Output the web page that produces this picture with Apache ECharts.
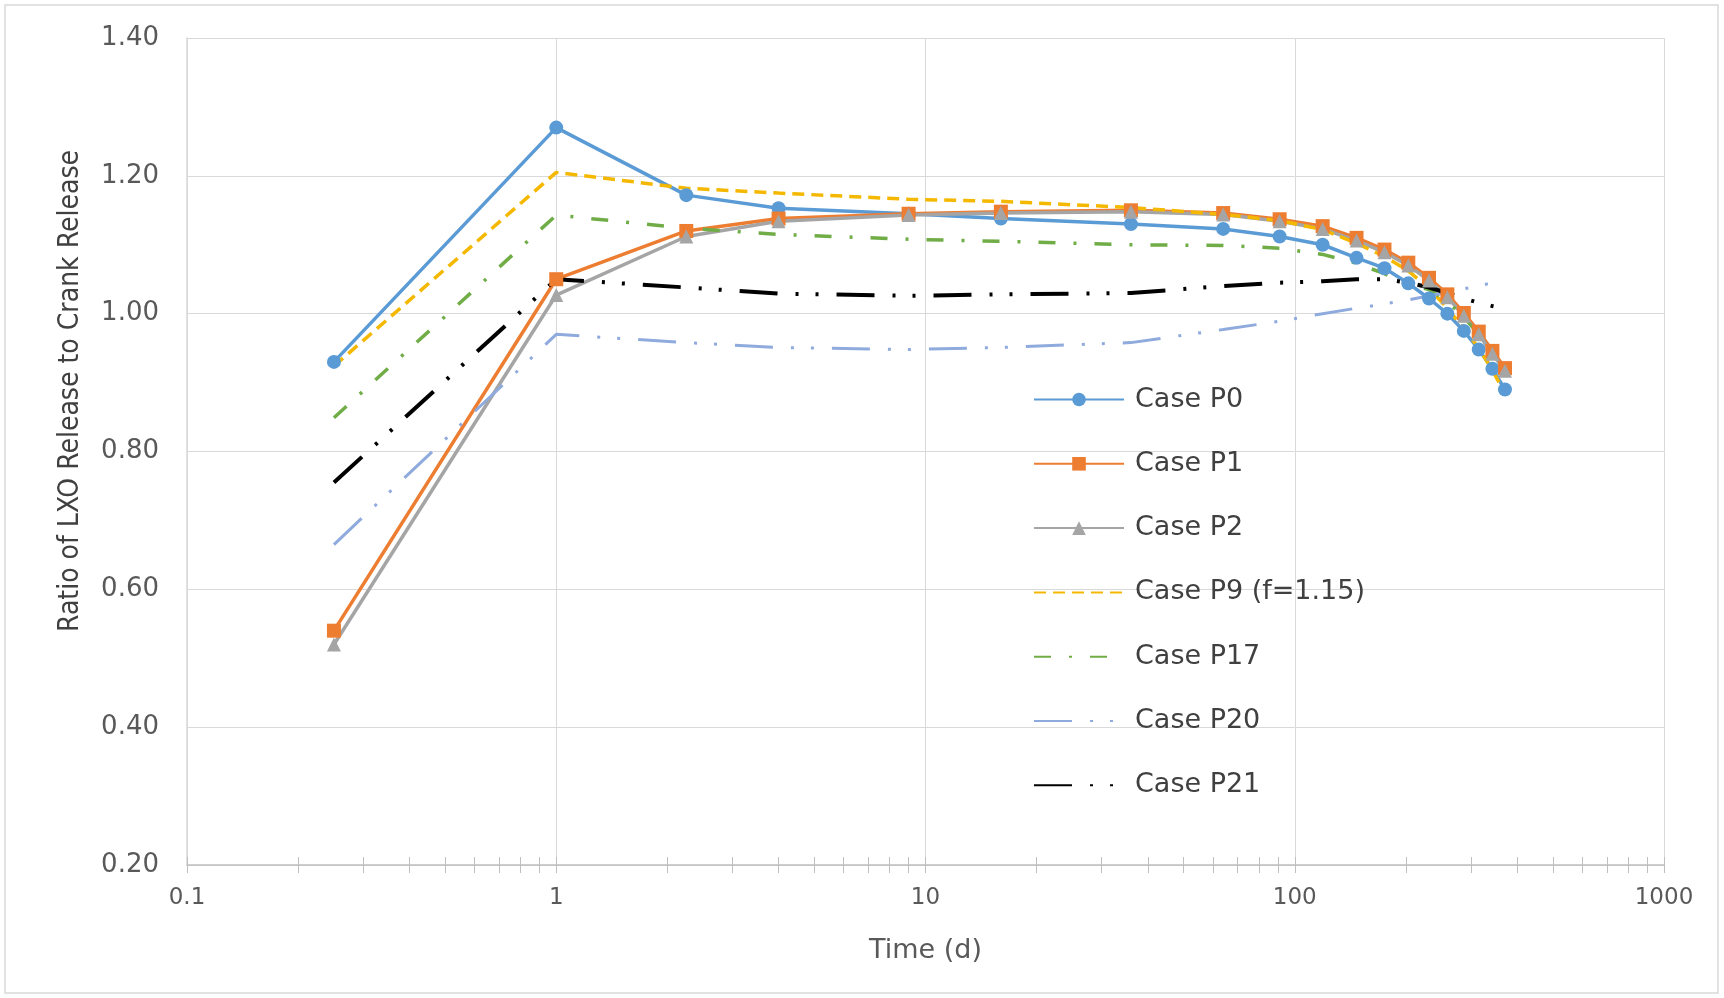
<!DOCTYPE html>
<html>
<head>
<meta charset="utf-8">
<script src="https://cdn.jsdelivr.net/npm/echarts@6/dist/echarts.min.js"></script>
<style>
html,body{margin:0;padding:0;background:#fff;}
#chart{width:1724px;height:998px;}
</style>
</head>
<body>
<div id="chart"></div>
<script>
// ---- data ----
const timeDays = [0.25, 1, 2.25, 4, 9, 16, 36, 64, 91, 119, 147, 175, 203, 231, 259, 287, 315, 343, 371];
const caseP0  = [0.930, 1.270, 1.172, 1.153, 1.145, 1.138, 1.130, 1.123, 1.112, 1.100, 1.081, 1.066, 1.044, 1.022, 1.000, 0.975, 0.948, 0.920, 0.890];
const caseP1  = [0.540, 1.050, 1.120, 1.138, 1.145, 1.148, 1.150, 1.146, 1.137, 1.127, 1.110, 1.093, 1.074, 1.052, 1.028, 1.001, 0.974, 0.946, 0.921];
const caseP2  = [0.520, 1.027, 1.112, 1.134, 1.143, 1.146, 1.148, 1.144, 1.134, 1.123, 1.106, 1.089, 1.070, 1.048, 1.024, 0.997, 0.970, 0.942, 0.917];
const caseP9  = [0.924, 1.205, 1.182, 1.175, 1.166, 1.163, 1.154, 1.144, 1.135, 1.122, 1.102, 1.083, 1.062, 1.037, 1.008, 0.978, 0.950, 0.918, 0.884];
const caseP17 = [0.849, 1.143, 1.124, 1.115, 1.108, 1.105, 1.100, 1.099, 1.095, 1.086, 1.073, 1.058, 1.042, 1.035, 1.018, 0.995, 0.970, 0.943, 0.915];
const caseP20 = [0.665, 0.970, 0.958, 0.951, 0.948, 0.951, 0.958, 0.977, 0.989, 1.000, 1.008, 1.014, 1.020, 1.026, 1.031, 1.036, 1.040, 1.045, 1.050];
const caseP21 = [0.755, 1.050, 1.038, 1.029, 1.026, 1.028, 1.030, 1.040, 1.045, 1.047, 1.050, 1.050, 1.045, 1.038, 1.030, 1.022, 1.016, 1.011, 1.007];
const seriesNames = ['Case P0', 'Case P1', 'Case P2', 'Case P9 (f=1.15)', 'Case P17', 'Case P20', 'Case P21'];
const xDecadeLabels = [0.1, 1, 10, 100, 1000];
const yTickValues = [0.20, 0.40, 0.60, 0.80, 1.00, 1.20, 1.40];
const xAxisTitle = 'Time (d)';
const yAxisTitle = 'Ratio of LXO Release to Crank Release';

// minor tick positions of the log axis (1..9 in each decade)
const logTickValues = [];
for (let d = 0; d < 4; d++) {
  for (let k = 1; k <= 9; k++) logTickValues.push(+(Math.pow(10, d - 1) * k).toPrecision(6));
}
logTickValues.push(1000);

const pair = arr => timeDays.map((t, i) => [t, arr[i]]);

const chart = echarts.init(document.getElementById('chart'), null, {renderer: 'canvas'});

const tickAxisBase = {
  type: 'log', logBase: 10, min: 0.1, max: 1000, position: 'bottom',
  axisLine: {show: false}, axisLabel: {show: false}, splitLine: {show: false},
  axisPointer: {show: false}
};

const markerless = ['Case P9 (f=1.15)', 'Case P17', 'Case P20', 'Case P21'];

const option = {
  backgroundColor: '#ffffff',
  animation: false,
  grid: {left: 187, right: 60, top: 38, bottom: 133},
  graphic: [
    {type: 'rect', shape: {x: 5, y: 5, width: 1713, height: 988},
     style: {fill: 'none', stroke: '#d9d9d9', lineWidth: 1.5}, silent: true},
    {type: 'text', x: 71, y: 391, rotation: Math.PI / 2,
     style: {text: yAxisTitle, fontSize: 28, fontFamily: '"DejaVu Sans Condensed", "DejaVu Sans"',
             fill: '#404040', align: 'center', verticalAlign: 'middle'}}
  ],
  xAxis: [
    {
      type: 'log', logBase: 10, min: 0.1, max: 1000, position: 'bottom',
      name: xAxisTitle, nameLocation: 'middle', nameGap: 72,
      nameTextStyle: {fontSize: 27, color: '#595959', fontFamily: 'DejaVu Sans'},
      axisLine: {show: true, lineStyle: {color: '#bfbfbf', width: 1.5}},
      axisTick: {show: false},
      axisLabel: {color: '#595959', fontSize: 23, fontFamily: 'DejaVu Sans', margin: 22,
                  customValues: xDecadeLabels, formatter: v => String(v)},
      splitLine: {show: true, lineStyle: {color: '#d9d9d9', width: 1}}
    },
    Object.assign({}, tickAxisBase, {axisTick: {show: true, inside: false, length: 8, customValues: logTickValues,
      lineStyle: {color: '#bfbfbf', width: 1}}}),
    Object.assign({}, tickAxisBase, {axisTick: {show: true, inside: true, length: 8, customValues: logTickValues,
      lineStyle: {color: '#bfbfbf', width: 1}}})
  ],
  yAxis: {
    type: 'value', min: 0.2, max: 1.4, interval: 0.2,
    axisLine: {show: true, lineStyle: {color: '#d9d9d9', width: 1.5}},
    axisTick: {show: false},
    axisLabel: {color: '#595959', fontSize: 26, fontFamily: 'DejaVu Sans', margin: 28,
                customValues: yTickValues, formatter: v => v.toFixed(2)},
    splitLine: {show: true, lineStyle: {color: '#d9d9d9', width: 1}}
  },
  legend: {
    orient: 'vertical', left: 1028, top: 381,
    itemWidth: 90, itemHeight: 17, itemGap: 37.3,
    textStyle: {fontSize: 27, color: '#404040', fontFamily: 'DejaVu Sans', padding: [0, 0, 0, 6]},
    data: seriesNames.map(n => markerless.indexOf(n) >= 0
      ? {name: n, itemStyle: {opacity: 0, borderWidth: 0}}
      : {name: n})
  },
  series: [
    {name: seriesNames[0], type: 'line', data: pair(caseP0), symbol: 'circle', symbolSize: 14,
     color: '#5b9bd5', lineStyle: {width: 3.5, color: '#5b9bd5'}, itemStyle: {color: '#5b9bd5'}},
    {name: seriesNames[1], type: 'line', data: pair(caseP1), symbol: 'rect', symbolSize: 14,
     color: '#ed7d31', lineStyle: {width: 3.5, color: '#ed7d31'}, itemStyle: {color: '#ed7d31'}},
    {name: seriesNames[2], type: 'line', data: pair(caseP2), symbol: 'triangle', symbolSize: 14,
     color: '#a5a5a5', lineStyle: {width: 3.5, color: '#a5a5a5'}, itemStyle: {color: '#a5a5a5'}},
    {name: seriesNames[3], type: 'line', data: pair(caseP9), symbol: 'none',
     color: '#f5b800', lineStyle: {width: 3.5, color: '#f5b800', type: [12, 7]}},
    {name: seriesNames[4], type: 'line', data: pair(caseP17), symbol: 'none',
     color: '#70ad47', lineStyle: {width: 3.5, color: '#70ad47', type: [17, 18, 3, 18]}},
    {name: seriesNames[5], type: 'line', data: pair(caseP20), symbol: 'none',
     color: '#8faadc', lineStyle: {width: 3, color: '#8faadc', type: [38, 18, 3, 17, 3, 18]}},
    {name: seriesNames[6], type: 'line', data: pair(caseP21), symbol: 'none',
     color: '#000000', lineStyle: {width: 4, color: '#000000', type: [38, 18, 3, 17, 3, 18]}}
  ]
};
chart.setOption(option);
</script>
</body>
</html>
